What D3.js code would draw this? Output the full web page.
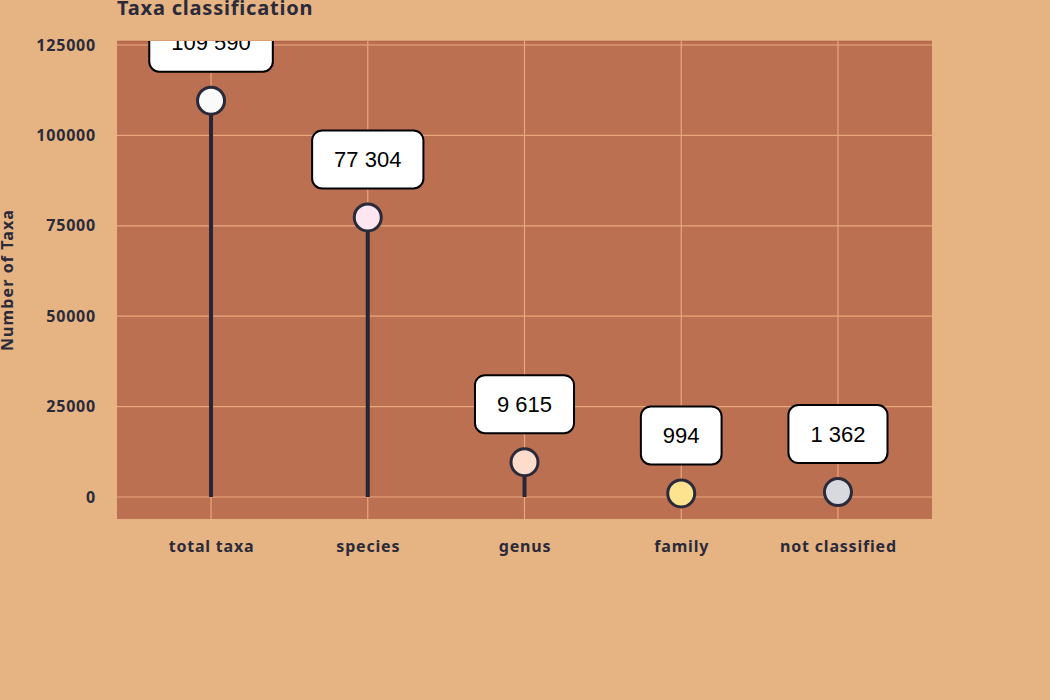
<!DOCTYPE html>
<html><head><meta charset="utf-8">
<script src="https://cdn.jsdelivr.net/npm/d3@7"></script>
<style>
html,body{margin:0;padding:0;background:#e6b383;}
svg{display:block;}
</style></head>
<body>
<svg id="chart" width="1050" height="700"></svg>
<script>
const categories = ["total taxa", "species", "genus", "family", "not classified"];
const values = [109590, 77304, 9615, 994, 1362];
const labels = ["109 590", "77 304", "9 615", "994", "1 362"];
const dotColors = ["#fafafa", "#fde6ef", "#fddccb", "#fde38f", "#d7d9de"];
const yTicks = [0, 25000, 50000, 75000, 100000, 125000];

const svg = d3.select("#chart");
const W = 1050, H = 700;
const plot = {left: 117, right: 932, top: 41, bottom: 519};
const ink = "#2a2a3a";
const axisFont = "'Noto Sans', sans-serif";

svg.append("rect").attr("width", W).attr("height", H).attr("fill", "#e6b383");

const x = d3.scalePoint().domain(categories).range([plot.left, plot.right]).padding(0.6);
const y = d3.scaleLinear().domain([0, 125000]).range([497, 45]);

svg.append("defs").append("clipPath").attr("id", "clip")
  .append("rect").attr("x", plot.left).attr("y", plot.top)
  .attr("width", plot.right - plot.left).attr("height", plot.bottom - plot.top);

svg.append("rect").attr("x", plot.left).attr("y", plot.top)
  .attr("width", plot.right - plot.left).attr("height", plot.bottom - plot.top)
  .attr("fill", "#bc7052");
svg.append("line").attr("x1", plot.left).attr("x2", plot.right)
  .attr("y1", plot.top + 0.5).attr("y2", plot.top + 0.5)
  .attr("stroke", "#b4684b").attr("stroke-width", 1.5);

// grid
const grid = svg.append("g");
grid.selectAll("line.h").data(yTicks).join("line")
  .attr("x1", plot.left).attr("x2", plot.right)
  .attr("y1", d => y(d)).attr("y2", d => y(d))
  .attr("stroke", "#e9a77c").attr("stroke-width", 1.2);
grid.selectAll("line.v").data(categories).join("line")
  .attr("x1", d => x(d)).attr("x2", d => x(d))
  .attr("y1", plot.top).attr("y2", plot.bottom)
  .attr("stroke", "#e9a77c").attr("stroke-width", 1.2);

function styleText(sel, size, ls) {
  sel.attr("font-family", axisFont).attr("font-weight", 700)
    .attr("font-size", size).attr("letter-spacing", ls + "px").attr("fill", ink);
}

// y axis
const yAxis = svg.append("g").attr("transform", `translate(${plot.left},0)`)
  .call(d3.axisLeft(y).tickValues(yTicks).tickFormat(d3.format("d")).tickSize(0).tickPadding(21));
yAxis.select(".domain").remove();
styleText(yAxis.selectAll("text"), 16, 0.8);

// x axis
const xAxis = svg.append("g").attr("transform", `translate(0,${plot.bottom})`)
  .call(d3.axisBottom(x).tickSize(0).tickPadding(22));
xAxis.select(".domain").remove();
styleText(xAxis.selectAll("text"), 16, 0.8);

// title
const title = svg.append("text").attr("x", plot.left).attr("y", 15).text("Taxa classification");
styleText(title, 20, 0.8);

// y label
const yl = svg.append("text").attr("transform", `translate(13,280) rotate(-90)`)
  .attr("text-anchor", "middle").text("Number of Taxa");
styleText(yl, 16, 1.1);

const data = categories.map((c, i) => ({c, v: values[i], label: labels[i], color: dotColors[i]}));
const g = svg.append("g").attr("clip-path", "url(#clip)");

g.selectAll("line.stem").data(data).join("line")
  .attr("x1", d => x(d.c)).attr("x2", d => x(d.c))
  .attr("y1", y(0)).attr("y2", d => y(d.v))
  .attr("stroke", "#262636").attr("stroke-width", 4);

g.selectAll("circle").data(data).join("circle")
  .attr("cx", d => x(d.c)).attr("cy", d => y(d.v)).attr("r", 13.5)
  .attr("fill", d => d.color).attr("stroke", ink).attr("stroke-width", 3);

const boxes = g.selectAll("g.box").data(data).join("g").attr("class", "box");
boxes.each(function(d) {
  const sel = d3.select(this);
  const t = sel.append("text")
    .attr("x", x(d.c)).attr("y", y(d.v) - 29 - 29)
    .attr("text-anchor", "middle").attr("dominant-baseline", "central")
    .attr("font-family", "'Liberation Sans', Arial, sans-serif").attr("font-size", 22)
    .attr("fill", "#000").text(d.label);
  const w = t.node().getComputedTextLength() + 44;
  sel.insert("rect", "text")
    .attr("x", x(d.c) - w / 2).attr("y", y(d.v) - 29 - 58)
    .attr("width", w).attr("height", 58).attr("rx", 10)
    .attr("fill", "#fff").attr("stroke", "#000").attr("stroke-width", 2);
});
</script>
</body></html>
